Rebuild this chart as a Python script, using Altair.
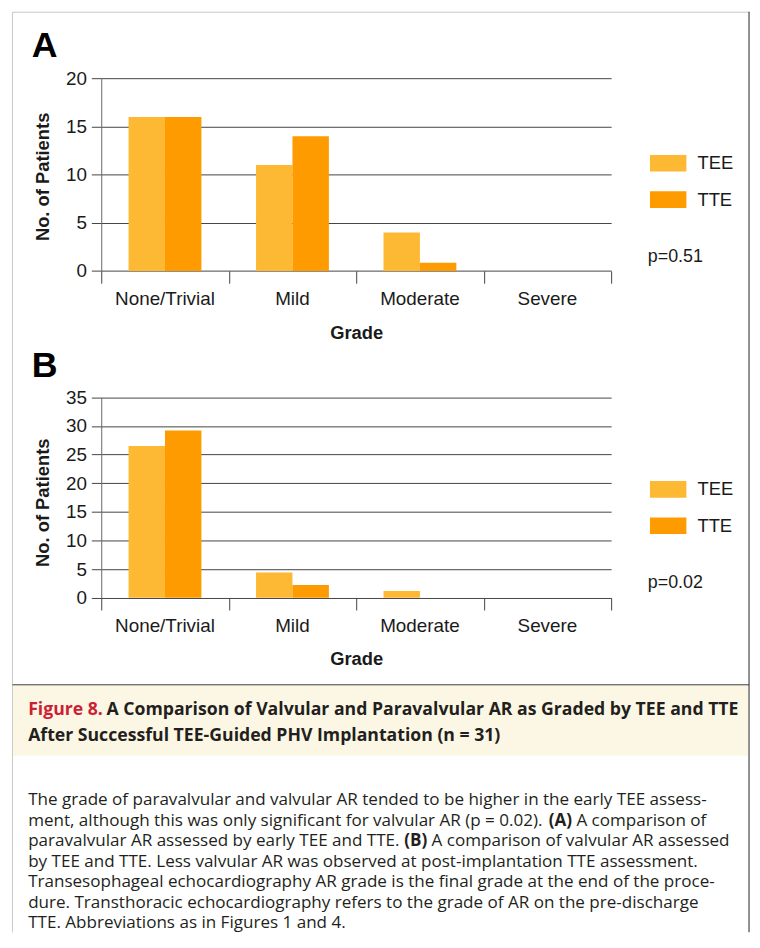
import altair as alt
import pandas as pd

# ---------------- data ----------------
grades = ["None/Trivial", "Mild", "Moderate", "Severe"]
methods = ["TEE", "TTE"]
a_tee = [16, 11, 4, 0]
a_tte = [16, 14, 0.85, 0]
b_tee = [26.5, 4.4, 1.15, 0]
b_tte = [29.2, 2.2, 0, 0]
a_ticks = [0, 5, 10, 15, 20]
b_ticks = [0, 5, 10, 15, 20, 25, 30, 35]
boundaries = [0, 1, 2, 3, 4]
colors = ["#FDB933", "#FD9B00"]
panel_letters = ["A", "B"]
p_values = ["p=0.51", "p=0.02"]
y_title = "No. of Patients"
x_title = "Grade"
head_red = "Figure 8."
head_lines = ["A Comparison of Valvular and Paravalvular AR as Graded by TEE and TTE",
              "After Successful TEE-Guided PHV Implantation (n = 31)"]
body_lines = [
    "The grade of paravalvular and valvular AR tended to be higher in the early TEE assess-",
    "ment, although this was only significant for valvular AR (p = 0.02).",
    "paravalvular AR assessed by early TEE and TTE.",
    "by TEE and TTE. Less valvular AR was observed at post-implantation TTE assessment.",
    "Transesophageal echocardiography AR grade is the final grade at the end of the proce-",
    "dure. Transthoracic echocardiography refers to the grade of AR on the pre-discharge",
    "TTE. Abbreviations as in Figures 1 and 4.",
]
bold_a = "(A)"
after_a = "A comparison of"
bold_b = "(B)"
after_b = "A comparison of valvular AR assessed"

# ---------------- layout ----------------
W, H = 750, 928
X_RANGE = [94, 608]
A_Y = [261.3, 67.3]
B_Y = [590.7, 388.7]
TXT = "#1a1a1a"
CAP_FONT = "Open Sans"
CAP_COLOR = "#231f20"
HEAD_SIZE = 17.8
BODY_SIZE = 17.2


def long_df(tee, tte):
    rows = []
    for g, v1, v2 in zip(grades, tee, tte):
        rows.append({"grade": g, "method": "TEE", "value": v1})
        rows.append({"grade": g, "method": "TTE", "value": v2})
    return pd.DataFrame(rows)


def panel(tee, tte, yrange, ticks, title_y, legend_y):
    df = long_df(tee, tte)
    bars = alt.Chart(df).mark_bar().encode(
        x=alt.X("grade:N", sort=grades,
                scale=alt.Scale(domain=grades, range=X_RANGE, paddingInner=0, paddingOuter=0),
                axis=alt.Axis(orient="bottom", offset=yrange[0] - H, ticks=False, tickSize=0,
                              domain=False, grid=False, labelAngle=0, labelFontSize=19,
                              labelColor=TXT, labelPadding=33.7, labelBaseline="alphabetic",
                              title=x_title, titleFontSize=18.5, titleFontWeight="bold",
                              titleColor=TXT, titleY=67.7, titleBaseline="alphabetic")),
        xOffset=alt.XOffset("method:N", sort=methods,
                            scale=alt.Scale(domain=methods, paddingInner=0, paddingOuter=0.75)),
        y=alt.Y("value:Q",
                scale=alt.Scale(domain=[0, ticks[-1]], range=yrange, nice=False, zero=True),
                axis=alt.Axis(orient="left", offset=-X_RANGE[0], values=ticks, grid=True,
                              gridColor="#444444", gridWidth=1, tickColor="#444444",
                              tickSize=10, domainColor="#666666", labelFontSize=19,
                              labelPadding=5, labelColor=TXT, title=y_title,
                              titleFontSize=18.5, titleFontWeight="bold", titleColor=TXT,
                              titleX=-53, titleY=title_y, titleAngle=270,
                              titleBaseline="alphabetic", titleAlign="center")),
        color=alt.Color("method:N", sort=methods,
                        scale=alt.Scale(domain=methods, range=colors),
                        legend=alt.Legend(orient="none", legendX=647, legendY=legend_y,
                                          title=None, symbolType="M-1,-0.455H1V0.455H-1Z",
                                          symbolSize=1347, symbolStrokeWidth=0,
                                          symbolOpacity=1, labelFontSize=18.5, labelOffset=11,
                                          rowPadding=8.7, padding=0, labelColor=TXT)),
    )
    tick_layer = alt.Chart(pd.DataFrame({"b": boundaries})).mark_rule(opacity=0).encode(
        x=alt.X("b:Q", scale=alt.Scale(domain=[0, 4], range=X_RANGE, nice=False, zero=False),
                axis=alt.Axis(orient="bottom", offset=yrange[0] - H, values=boundaries,
                              labels=False, grid=False, domain=False, ticks=True,
                              tickSize=12.4, tickColor="#444444", title=None))
    )
    return [bars, tick_layer]


def text(t, x, y, size, weight="normal", color=TXT, font="Liberation Sans"):
    return alt.Chart(pd.DataFrame({"t": [t]})).mark_text(
        align="left", baseline="alphabetic", fontSize=size, fontWeight=weight,
        color=color, font=font).encode(text="t:N", x=alt.value(x), y=alt.value(y))


def deco():
    return alt.Chart(pd.DataFrame({"k": [0]}))


layers = []
# frame & caption header background
layers.append(deco().mark_rect(color="#fcf7e4").encode(
    x=alt.value(5), x2=alt.value(746.5), y=alt.value(678.5), y2=alt.value(750)))
layers.append(deco().mark_rule(color="#c8c8c8", strokeWidth=1).encode(
    x=alt.value(4.5), y=alt.value(0.5), y2=alt.value(H)))
layers.append(deco().mark_rule(color="#c8c8c8", strokeWidth=1).encode(
    x=alt.value(4.5), x2=alt.value(747.5), y=alt.value(0.5)))
layers.append(deco().mark_rule(color="#555555", strokeWidth=1.3).encode(
    x=alt.value(747), y=alt.value(0), y2=alt.value(H)))
layers.append(deco().mark_rule(color="#3c3c3c", strokeWidth=1).encode(
    x=alt.value(4.5), x2=alt.value(747), y=alt.value(678.5)))

layers += panel(a_tee, a_tte, A_Y, a_ticks, 166, 134.2)
layers += panel(b_tee, b_tte, B_Y, b_ticks, 494.5, 463)

layers.append(text(panel_letters[0], 24, 46, 36, "bold", "#000000"))
layers.append(text(panel_letters[1], 24, 368, 36, "bold", "#000000"))
layers.append(text(p_values[0], 645, 252.5, 18))
layers.append(text(p_values[1], 645, 581, 18))

# caption
layers.append(text(head_red, 20.3, 708.7, HEAD_SIZE, "bold", "#cc1f36", CAP_FONT))
layers.append(text(head_lines[0], 99.3, 708.7, HEAD_SIZE, "bold", CAP_COLOR, CAP_FONT))
layers.append(text(head_lines[1], 20.3, 734.7, HEAD_SIZE, "bold", CAP_COLOR, CAP_FONT))
for i, line in enumerate(body_lines):
    layers.append(text(line, 20.3, 799.7 + 20.7 * i, BODY_SIZE, "normal", CAP_COLOR, CAP_FONT))
layers.append(text(bold_a, 545, 799.7 + 20.7, BODY_SIZE, "bold", CAP_COLOR, CAP_FONT))
layers.append(text(after_a, 573, 799.7 + 20.7, BODY_SIZE, "normal", CAP_COLOR, CAP_FONT))
layers.append(text(bold_b, 399.5, 799.7 + 41.4, BODY_SIZE, "bold", CAP_COLOR, CAP_FONT))
layers.append(text(after_b, 427, 799.7 + 41.4, BODY_SIZE, "normal", CAP_COLOR, CAP_FONT))

chart = alt.layer(*layers).resolve_scale(
    x="independent", y="independent", color="independent", xOffset="independent"
).resolve_axis(x="independent", y="independent").resolve_legend(
    color="independent"
).properties(
    width=W, height=H, autosize=alt.AutoSizeParams(type="none"), padding=0
).configure(font="Liberation Sans").configure_view(stroke="transparent")

chart.save("out.html", embed_options={"renderer": "svg", "actions": False})
